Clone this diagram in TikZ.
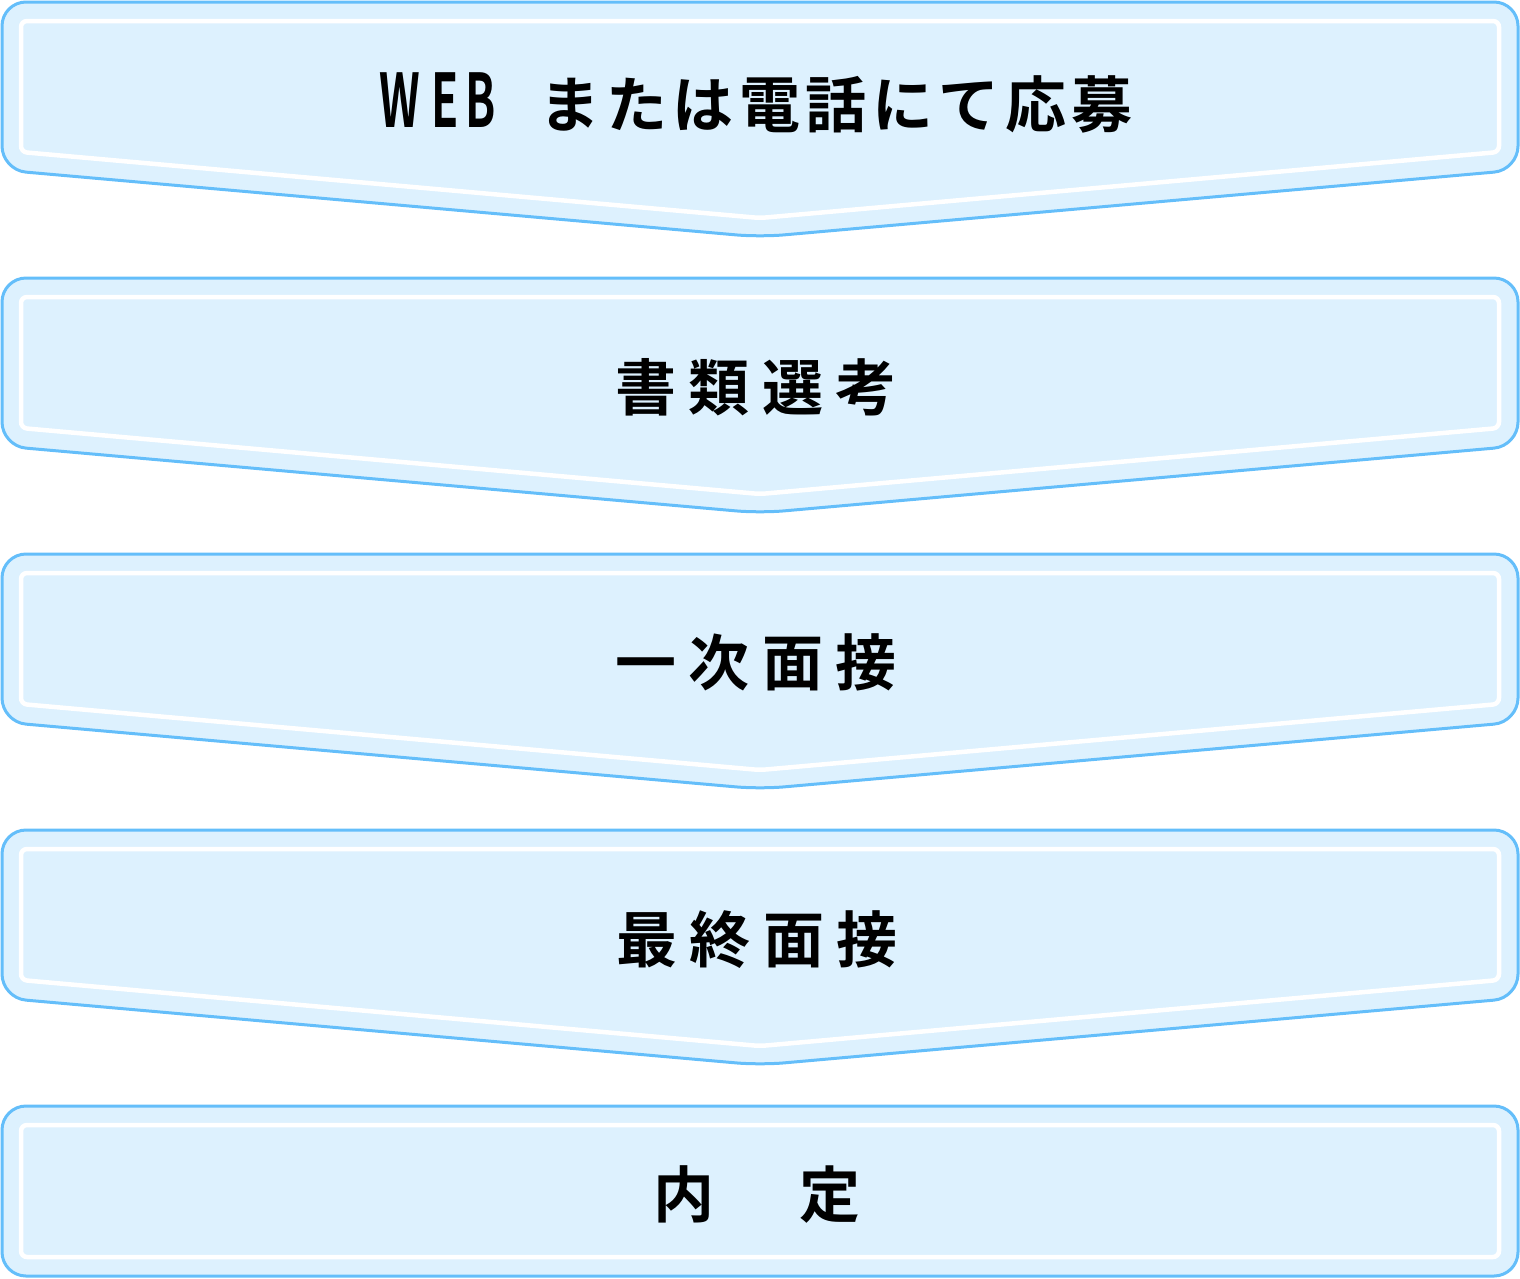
\documentclass[tikz,border=0pt]{standalone}
\usepackage{fontspec}
\newfontfamily\jpfont{Noto Sans CJK JP}[BoldFont={* Bold}]
\definecolor{boxfill}{RGB}{221,241,254}
\definecolor{boxline}{RGB}{100,190,250}
\newcommand\tkA{\kern5.5pt}
\newcommand\tkB{\kern12.5pt}
\newcommand\lat[1]{\scalebox{0.6}[1]{\fontsize{74}{74}\selectfont #1}}
\begin{document}
\begin{tikzpicture}[x=1pt,y=-1pt,
  outerbox/.style={draw=boxline,fill=boxfill,line width=3pt,rounded corners=24pt,line join=round},
  innerbox/.style={draw=white,line width=4.5pt,rounded corners=6pt,line join=round},
  label/.style={inner sep=0pt,anchor=base,font=\jpfont\bfseries\fontsize{61}{61}\selectfont,text=black}]
\useasboundingbox (0,0) rectangle (1520,1278);
\foreach \T in {2,278,554,830}{
  \path[outerbox] (2,\T) -- (1518,\T) -- (1518,\T+168) -- (760,\T+235) -- (2,\T+168) -- cycle;
  \path[innerbox] (21,\T+19) -- (1499,\T+19) -- (1499,\T+150) -- (760,\T+216) -- (21,\T+150) -- cycle;
}
\path[outerbox] (2,1106) rectangle (1518,1276);
\path[innerbox] (21,1125) rectangle (1499,1257);
\node[label] (s1) at (756,127) {\lat{W}\kern11pt\lat{E}\kern7pt\lat{B}\kern44pt ま\tkA た\tkA は\tkA 電\tkA 話\tkA に\tkA て\tkA 応\tkA 募};
\node[label] (s2) at (756,410) {書\tkB 類\tkB 選\tkB 考};
\node[label] (s3) at (756,685.5) {一\tkB 次\tkB 面\tkB 接};
\node[label] (s4) at (757,962) {最\tkB 終\tkB 面\tkB 接};
\node[label] (s5) at (757,1217) {内\tkB 　\tkB 定};
\end{tikzpicture}
\end{document}
